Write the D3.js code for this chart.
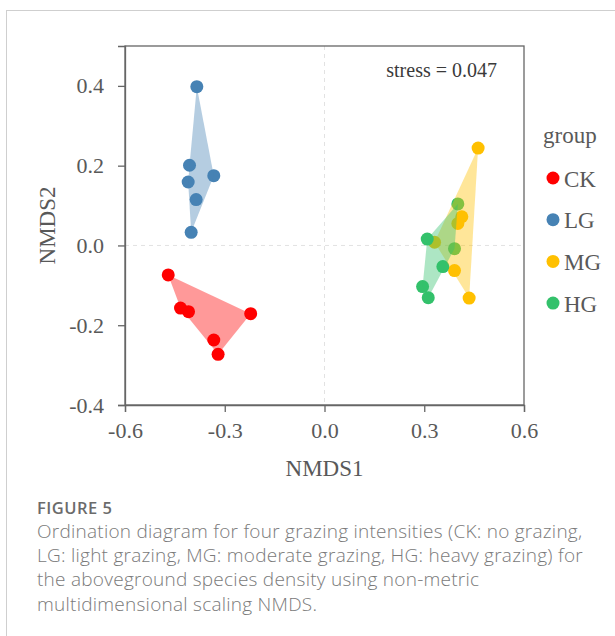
<!DOCTYPE html>
<html><head><meta charset="utf-8">
<script src="https://cdn.jsdelivr.net/npm/d3@7"></script>
<style>body{margin:0;background:#fff;}svg{display:block;}</style>
</head><body>
<script>
const groups = ["CK", "LG", "MG", "HG"];
const colors = ["#FF0000", "#4682B4", "#FFC000", "#33C16B"];
const ckX = [-0.470, -0.433, -0.409, -0.222, -0.333, -0.320];
const ckY = [-0.074, -0.157, -0.166, -0.171, -0.237, -0.273];
const lgX = [-0.384, -0.406, -0.410, -0.333, -0.386, -0.401];
const lgY = [0.398, 0.201, 0.159, 0.175, 0.115, 0.033];
const mgX = [0.462, 0.413, 0.401, 0.331, 0.391, 0.435];
const mgY = [0.244, 0.072, 0.055, 0.008, -0.063, -0.132];
const hgX = [0.401, 0.309, 0.391, 0.356, 0.295, 0.312];
const hgY = [0.104, 0.016, -0.008, -0.053, -0.103, -0.131];
const xTicks = [-0.6, -0.3, 0.0, 0.3, 0.6];
const yTicks = [-0.4, -0.2, 0.0, 0.2, 0.4];
const stressLabel = "stress = 0.047";
const captionTitle = "FIGURE 5";
const captionLines = [
  "Ordination diagram for four grazing intensities (CK: no grazing,",
  "LG: light grazing, MG: moderate grazing, HG: heavy grazing) for",
  "the aboveground species density using non-metric",
  "multidimensional scaling NMDS."
];

const seriesX = [ckX, lgX, mgX, hgX];
const seriesY = [ckY, lgY, mgY, hgY];
const data = groups.map((g, i) => ({
  group: g, color: colors[i],
  pts: seriesX[i].map((x, j) => [x, seriesY[i][j]])
}));

const W = 615, H = 636;
const svg = d3.select("body").append("svg").attr("width", W).attr("height", H);
svg.append("rect").attr("x", 6.5).attr("y", 10.5).attr("width", 700).attr("height", 700)
  .attr("fill", "none").attr("stroke", "#cfcfcf").attr("stroke-width", 1);

const L = 125, R = 524, T = 46, B = 405;
const x = d3.scaleLinear().domain([-0.6, 0.6]).range([L, R]);
const y = d3.scaleLinear().domain([-0.4, 0.5]).range([B, T]);
const serif = "'Liberation Serif', 'Times New Roman', serif";
const txt = "#595959", axc = "#666";

// zero lines
svg.append("line").attr("x1", x(0)).attr("x2", x(0)).attr("y1", T).attr("y2", B)
  .attr("stroke", "#e2e2e2").attr("stroke-dasharray", "4,4");
svg.append("line").attr("x1", L).attr("x2", R).attr("y1", y(0)).attr("y2", y(0))
  .attr("stroke", "#e2e2e2").attr("stroke-dasharray", "4,4");

// points first
const pg = svg.append("g");
data.forEach(d => {
  pg.selectAll(null).data(d.pts).enter().append("circle")
    .attr("cx", p => x(p[0])).attr("cy", p => y(p[1])).attr("r", 6.5)
    .attr("fill", d.color);
});
// hull polygons on top
data.forEach(d => {
  const hull = d3.polygonHull(d.pts.map(p => [x(p[0]), y(p[1])]));
  svg.append("path").attr("d", "M" + hull.join("L") + "Z")
    .attr("fill", d.color).attr("fill-opacity", 0.4).attr("stroke", "none");
});

// box
svg.append("rect").attr("x", L).attr("y", T).attr("width", R - L).attr("height", B - T)
  .attr("fill", "none").attr("stroke", axc).attr("stroke-width", 1.3);

// axes
const xa = svg.append("g").attr("transform", `translate(0,${B})`)
  .call(d3.axisBottom(x).tickValues(xTicks).tickFormat(d3.format(".1f")).tickSize(7).tickPadding(10));
const ya = svg.append("g").attr("transform", `translate(${L},0)`)
  .call(d3.axisLeft(y).tickValues(yTicks).tickFormat(d3.format(".1f")).tickSize(7).tickPadding(14));
[xa, ya].forEach(a => {
  a.select(".domain").attr("stroke", axc).attr("stroke-width", 1.3);
  a.selectAll(".tick line").attr("stroke", axc).attr("stroke-width", 1.3);
  a.selectAll(".tick text").attr("fill", txt).style("font-family", serif).style("font-size", "22px");
});
xa.selectAll(".tick text").text(d => d3.format(".1f")(d).replace("−", "-"));
ya.selectAll(".tick text").text(d => d3.format(".1f")(d).replace("−", "-"));

svg.append("text").attr("x", (L + R) / 2).attr("y", 476).attr("text-anchor", "middle")
  .attr("fill", txt).style("font-family", serif).style("font-size", "23px").text("NMDS1");
svg.append("text").attr("transform", `translate(55,${(T + B) / 2}) rotate(-90)`).attr("text-anchor", "middle")
  .attr("fill", txt).style("font-family", serif).style("font-size", "23px").text("NMDS2");

svg.append("text").attr("x", 497).attr("y", 77).attr("text-anchor", "end")
  .attr("fill", "#3a3a3a").style("font-family", serif).style("font-size", "20px").text(stressLabel);

// legend
const lg = svg.append("g");
lg.append("text").attr("x", 543).attr("y", 143).attr("fill", txt)
  .style("font-family", serif).style("font-size", "23px").text("group");
groups.forEach((g, i) => {
  const cy = 178 + i * 41.7;
  lg.append("circle").attr("cx", 553).attr("cy", cy).attr("r", 6.5).attr("fill", colors[i]);
  lg.append("text").attr("x", 564).attr("y", cy + 8.5).attr("fill", txt)
    .style("font-family", serif).style("font-size", "23px").text(g);
});

// caption
const sans = "'Open Sans', 'Noto Sans', sans-serif";
svg.append("text").attr("x", 37).attr("y", 514).attr("fill", "#6b6b6b")
  .style("font-family", sans).style("font-size", "16.5px").style("font-weight", 600)
  .style("letter-spacing", "0.5px").text(captionTitle);
captionLines.forEach((t, i) => {
  svg.append("text").attr("x", 37).attr("y", 538 + i * 24.2).attr("fill", "#7a7a7a")
    .style("font-family", sans).style("font-size", "19px").style("font-weight", 300)
    .style("letter-spacing", "0.25px").text(t);
});
</script>
</body></html>
